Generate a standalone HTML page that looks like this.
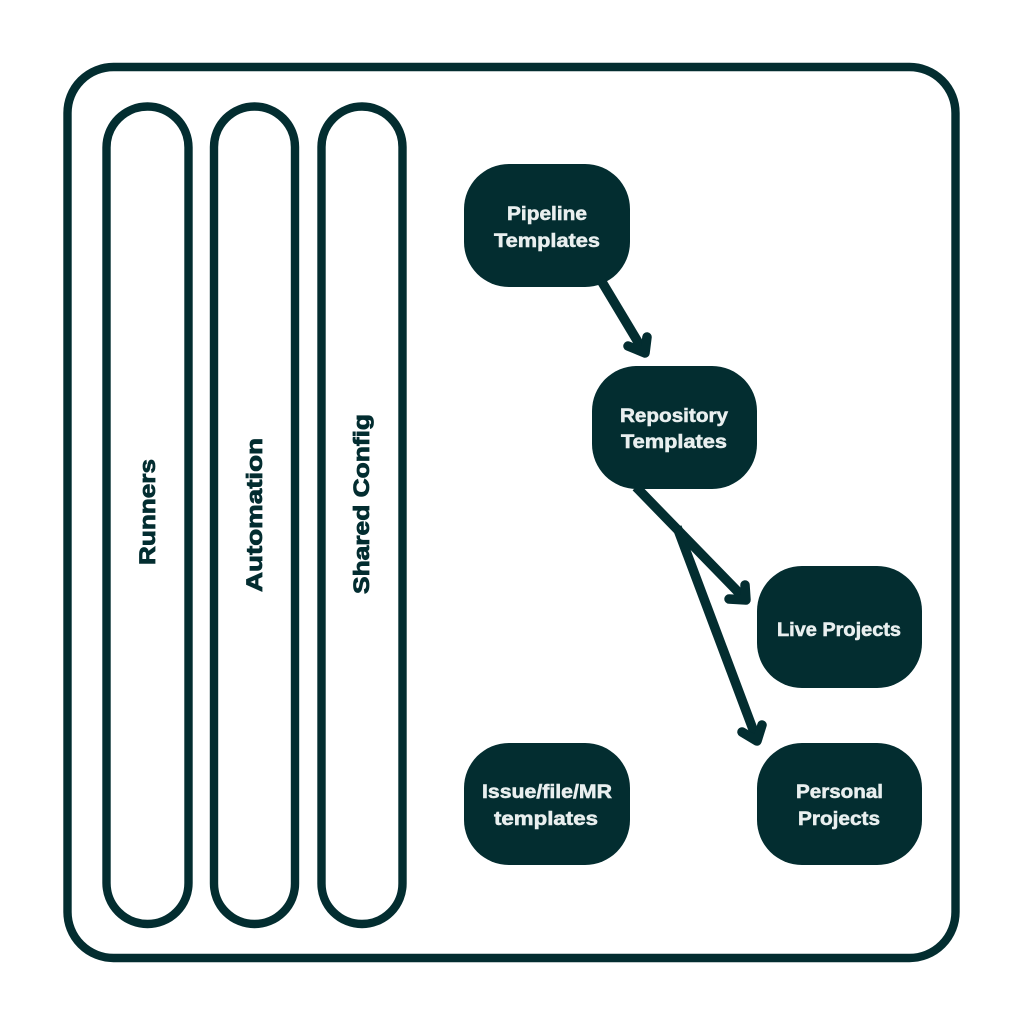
<!DOCTYPE html>
<html>
<head>
<meta charset="utf-8">
<style>
html,body{margin:0;padding:0;background:#fff}
svg{display:block}
text{font-family:"Liberation Sans",sans-serif;font-weight:700;font-size:19px;fill:#e9efef;stroke:#e9efef;stroke-width:.55}
text.d{fill:#032d30;stroke:#032d30;font-size:22px;stroke-width:.8}
</style>
</head>
<body>
<svg width="1024" height="1024" viewBox="0 0 1024 1024" xmlns="http://www.w3.org/2000/svg">
<rect width="1024" height="1024" fill="#fff"/>
<g fill="none" stroke="#032d30" stroke-width="8.4">
<rect x="67.5" y="67" width="888" height="891" rx="46" ry="46"/>
<rect x="106.5" y="106.5" width="82" height="817.500" rx="41" ry="41"/>
<rect x="214" y="106.5" width="81" height="817.500" rx="40.500" ry="40.500"/>
<rect x="321.500" y="106.5" width="81" height="817.500" rx="40.500" ry="40.500"/>
</g>
<g fill="#032d30">
<rect x="464" y="164" width="166" height="123" rx="45" ry="45"/>
<rect x="592" y="366" width="165" height="123" rx="45" ry="45"/>
<rect x="757" y="566" width="165" height="122" rx="45" ry="45"/>
<rect x="757" y="743" width="165" height="122" rx="45" ry="45"/>
<rect x="464" y="743" width="166" height="122" rx="45" ry="45"/>
</g>
<g fill="none" stroke="#032d30" stroke-width="9.5" stroke-linecap="round" stroke-linejoin="round">
<path d="M602 282L644 352" stroke-linecap="butt"/>
<path d="M647 337L645 353L628 346"/>
<path d="M636 487L745 599" stroke-linecap="butt"/>
<path d="M745 585L746 600L729 599"/>
<path d="M677 527L757 740" stroke-linecap="butt"/>
<path d="M762 725L757 741L742 732"/>
</g>
<text x="507" y="220" textLength="80" lengthAdjust="spacingAndGlyphs">Pipeline</text>
<text x="494" y="247" textLength="106" lengthAdjust="spacingAndGlyphs">Templates</text>
<text x="620" y="422" textLength="108" lengthAdjust="spacingAndGlyphs">Repository</text>
<text x="621" y="448" textLength="106" lengthAdjust="spacingAndGlyphs">Templates</text>
<text x="777" y="636" textLength="124" lengthAdjust="spacingAndGlyphs">Live Projects</text>
<text x="796" y="798" textLength="87" lengthAdjust="spacingAndGlyphs">Personal</text>
<text x="798" y="825" textLength="82" lengthAdjust="spacingAndGlyphs">Projects</text>
<text x="482" y="798" textLength="130" lengthAdjust="spacingAndGlyphs">Issue/file/MR</text>
<text x="494" y="825" textLength="104" lengthAdjust="spacingAndGlyphs">templates</text>
<text class="d" transform="translate(155,565) rotate(-90)" textLength="106" lengthAdjust="spacingAndGlyphs">Runners</text>
<text class="d" transform="translate(262,592) rotate(-90)" textLength="154" lengthAdjust="spacingAndGlyphs">Automation</text>
<text class="d" transform="translate(369,594) rotate(-90)" textLength="180" lengthAdjust="spacingAndGlyphs">Shared Config</text>
</svg>
</body>
</html>
